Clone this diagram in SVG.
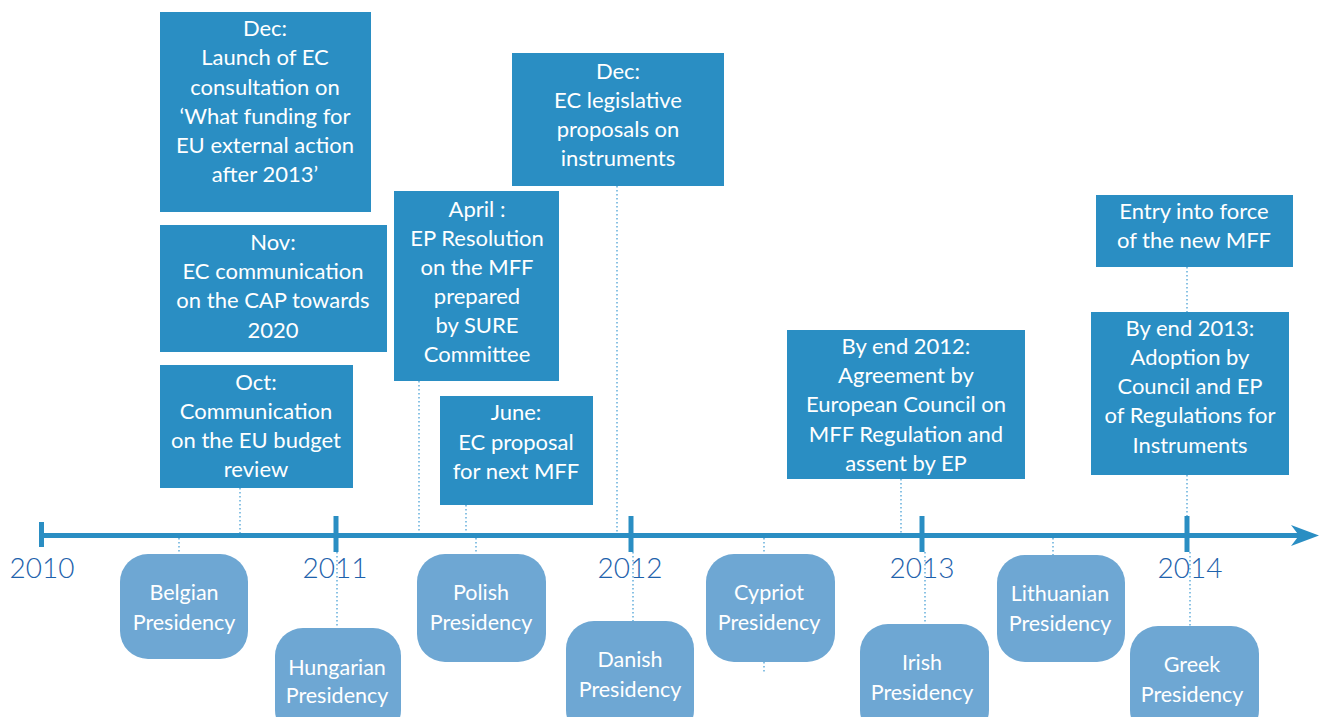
<svg xmlns="http://www.w3.org/2000/svg" width="1322" height="717" viewBox="0 0 1322 717">
<style>
.ev{fill:#2a8ec3}
.pr{fill:#6ea7d3}
.t{font-family:Lato,"Liberation Sans",sans-serif;fill:#fff;text-anchor:middle}
.te{font-size:22px}
.tp{font-size:21.5px}
.yr{font-family:Lato,"Liberation Sans",sans-serif;font-size:28px;font-weight:300;fill:#1e62ac;text-anchor:middle}
.dot{stroke:#3d9ad2;stroke-width:1.2;stroke-dasharray:1.5 2.5;fill:none}
.ax{stroke:#2a8ec3;stroke-width:5;fill:none}
</style>
<g id="connectors">
<line class="dot" x1="179" y1="538" x2="179" y2="555"/>
<line class="dot" x1="337" y1="552" x2="337" y2="628"/>
<line class="dot" x1="476" y1="538" x2="476" y2="555"/>
<line class="dot" x1="633" y1="552" x2="633" y2="621"/>
<line class="dot" x1="764" y1="538" x2="764" y2="672"/>
<line class="dot" x1="925" y1="552" x2="925" y2="624"/>
<line class="dot" x1="1053" y1="538" x2="1053" y2="555"/>
<line class="dot" x1="1190" y1="552" x2="1190" y2="626"/>
<line class="dot" x1="240" y1="488" x2="240" y2="533"/>
<line class="dot" x1="419" y1="381" x2="419" y2="533"/>
<line class="dot" x1="466" y1="505" x2="466" y2="533"/>
<line class="dot" x1="617" y1="186" x2="617" y2="533"/>
<line class="dot" x1="901" y1="479" x2="901" y2="533"/>
<line class="dot" x1="1187" y1="475" x2="1187" y2="516"/>
<line class="dot" x1="1187" y1="267" x2="1187" y2="312"/>
</g>
<g id="axis">
<line class="ax" x1="41" y1="535.5" x2="1300" y2="535.5"/>
<line class="ax" x1="41.5" y1="522" x2="41.5" y2="547"/>
<line class="ax" x1="336" y1="516" x2="336" y2="552"/>
<line class="ax" x1="631" y1="516" x2="631" y2="552"/>
<line class="ax" x1="922" y1="516" x2="922" y2="552"/>
<line class="ax" x1="1187" y1="516" x2="1187" y2="552"/>
<path d="M1291,525 L1319,535.5 L1291,546 L1299,535.5 Z" fill="#2a8ec3"/>
<text class="yr" x="42" y="578">2010</text>
<text class="yr" x="335" y="578">2011</text>
<text class="yr" x="630" y="578">2012</text>
<text class="yr" x="922" y="578">2013</text>
<text class="yr" x="1190" y="578">2014</text>
</g>
<g id="ev-dec2010">
<rect class="ev" x="160" y="12" width="211" height="200"/>
<text class="t te"><tspan x="265" y="36">Dec:</tspan><tspan x="265" y="65">Launch of EC</tspan><tspan x="265" y="95">consultation on</tspan><tspan x="265" y="124">‘What funding for</tspan><tspan x="265" y="153">EU external action</tspan><tspan x="265" y="182">after 2013’</tspan></text>
</g>
<g id="ev-nov2010">
<rect class="ev" x="160" y="225" width="227" height="127"/>
<text class="t te"><tspan x="273" y="250">Nov:</tspan><tspan x="273" y="279">EC communication</tspan><tspan x="273" y="308">on the CAP towards</tspan><tspan x="273" y="338">2020</tspan></text>
</g>
<g id="ev-oct2010">
<rect class="ev" x="160" y="365" width="193" height="123"/>
<text class="t te"><tspan x="256" y="390">Oct:</tspan><tspan x="256" y="419">Communication</tspan><tspan x="256" y="448">on the EU budget</tspan><tspan x="256" y="477">review</tspan></text>
</g>
<g id="ev-apr2011">
<rect class="ev" x="394" y="191" width="165" height="190"/>
<text class="t te"><tspan x="477" y="217">April :</tspan><tspan x="477" y="246">EP Resolution</tspan><tspan x="477" y="275">on the MFF</tspan><tspan x="477" y="304">prepared</tspan><tspan x="477" y="333">by SURE</tspan><tspan x="477" y="362">Committee</tspan></text>
</g>
<g id="ev-jun2011">
<rect class="ev" x="440" y="396" width="153" height="109"/>
<text class="t te"><tspan x="516" y="420">June:</tspan><tspan x="516" y="450">EC proposal</tspan><tspan x="516" y="479">for next MFF</tspan></text>
</g>
<g id="ev-dec2011">
<rect class="ev" x="512" y="53" width="212" height="133"/>
<text class="t te"><tspan x="618" y="79">Dec:</tspan><tspan x="618" y="108">EC legislative</tspan><tspan x="618" y="137">proposals on</tspan><tspan x="618" y="166">instruments</tspan></text>
</g>
<g id="ev-end2012">
<rect class="ev" x="787" y="330" width="238" height="149"/>
<text class="t te"><tspan x="906" y="354">By end 2012:</tspan><tspan x="906" y="383">Agreement by</tspan><tspan x="906" y="412">European Council on</tspan><tspan x="906" y="442">MFF Regulation and</tspan><tspan x="906" y="471">assent by EP</tspan></text>
</g>
<g id="ev-entry">
<rect class="ev" x="1096" y="195" width="197" height="72"/>
<text class="t te"><tspan x="1194" y="219">Entry into force</tspan><tspan x="1194" y="248">of the new MFF</tspan></text>
</g>
<g id="ev-end2013">
<rect class="ev" x="1091" y="312" width="198" height="163"/>
<text class="t te"><tspan x="1190" y="336">By end 2013:</tspan><tspan x="1190" y="365">Adoption by</tspan><tspan x="1190" y="394">Council and EP</tspan><tspan x="1190" y="423">of Regulations for</tspan><tspan x="1190" y="453">Instruments</tspan></text>
</g>
<g id="pr-belgian">
<rect class="pr" x="120" y="554" width="128" height="105" rx="28"/>
<text class="t tp"><tspan x="184" y="600">Belgian</tspan><tspan x="184" y="630">Presidency</tspan></text>
</g>
<g id="pr-hungarian">
<rect class="pr" x="275" y="628" width="126" height="110" rx="28"/>
<text class="t tp"><tspan x="337" y="675">Hungarian</tspan><tspan x="337" y="703">Presidency</tspan></text>
</g>
<g id="pr-polish">
<rect class="pr" x="417" y="554" width="129" height="108" rx="28"/>
<text class="t tp"><tspan x="481" y="600">Polish</tspan><tspan x="481" y="630">Presidency</tspan></text>
</g>
<g id="pr-danish">
<rect class="pr" x="566" y="621" width="128" height="117" rx="28"/>
<text class="t tp"><tspan x="630" y="667">Danish</tspan><tspan x="630" y="697">Presidency</tspan></text>
</g>
<g id="pr-cypriot">
<rect class="pr" x="706" y="554" width="129" height="108" rx="28"/>
<text class="t tp"><tspan x="769" y="600">Cypriot</tspan><tspan x="769" y="630">Presidency</tspan></text>
</g>
<g id="pr-irish">
<rect class="pr" x="860" y="624" width="129" height="114" rx="28"/>
<text class="t tp"><tspan x="922" y="670">Irish</tspan><tspan x="922" y="700">Presidency</tspan></text>
</g>
<g id="pr-lithuanian">
<rect class="pr" x="997" y="555" width="128" height="107" rx="28"/>
<text class="t tp"><tspan x="1060" y="601">Lithuanian</tspan><tspan x="1060" y="631">Presidency</tspan></text>
</g>
<g id="pr-greek">
<rect class="pr" x="1130" y="626" width="129" height="112" rx="28"/>
<text class="t tp"><tspan x="1192" y="672">Greek</tspan><tspan x="1192" y="702">Presidency</tspan></text>
</g>
</svg>
